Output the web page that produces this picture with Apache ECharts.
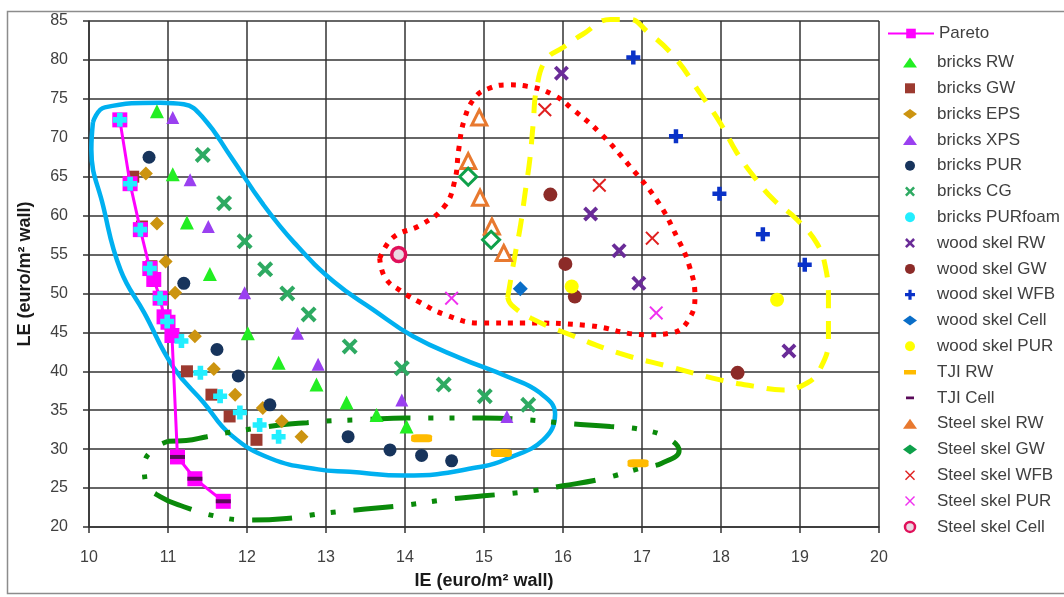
<!DOCTYPE html>
<html>
<head>
<meta charset="utf-8">
<script src="https://cdn.jsdelivr.net/npm/echarts@6/dist/echarts.min.js"></script>
<style>html,body{margin:0;padding:0;background:#fff}#c{width:1064px;height:597px}</style>
</head>
<body>
<div id="c"></div>
<script>
// ---- data (IE, LE) in euro/m2 wall ----
const xTicks = [10, 20, 1];     // min, max, interval
const yTicks = [20, 85, 5];
const xName = 'IE (euro/m\u00b2 wall)';
const yName = 'LE (euro/m\u00b2 wall)';

const pareto = [[10.39,72.3],[10.52,64.1],[10.65,58.2],[10.77,53.2],[10.82,51.8],[10.90,49.4],[10.95,47.0],[11.0,46.3],[11.05,44.6],[11.12,29.0],[11.34,26.2],[11.70,23.3]];
const bricksRW = [[10.86,73.4],[11.06,65.3],[11.24,59.1],[11.53,52.5],[12.01,44.9],[12.40,41.1],[12.88,38.3],[13.26,36.0],[13.64,34.4],[14.02,32.9]];
const bricksGW = [[10.56,65.0],[10.67,58.6],[10.79,53.5],[10.83,51.6],[10.95,47.0],[11.04,44.5],[11.24,40.0],[11.55,37.0],[11.78,34.2],[12.12,31.2]];
const bricksEPS = [[10.72,65.4],[10.86,59.0],[10.97,54.1],[11.09,50.1],[11.34,44.5],[11.58,40.3],[11.85,37.0],[12.2,35.3],[12.44,33.6],[12.69,31.6]];
const bricksXPS = [[11.06,72.6],[11.28,64.6],[11.51,58.6],[11.97,50.1],[12.64,44.9],[12.90,40.9],[13.96,36.3],[15.29,34.2]];
const bricksPUR = [[10.76,67.5],[11.20,51.3],[11.62,42.8],[11.89,39.4],[12.29,35.7],[13.28,31.6],[13.81,29.9],[14.21,29.2],[14.59,28.5]];
const bricksCG = [[11.44,67.8],[11.71,61.6],[11.97,56.7],[12.23,53.1],[12.51,50.0],[12.78,47.3],[13.30,43.2],[13.96,40.4],[14.49,38.3],[15.01,36.8],[15.56,35.7]];
const bricksPURfoam = [[10.39,72.3],[10.52,64.1],[10.65,58.2],[10.77,53.2],[10.90,49.4],[10.99,46.4],[11.17,43.9],[11.41,39.8],[11.66,36.8],[11.91,34.7],[12.16,33.1],[12.40,31.6]];
const woodRW = [[15.98,78.3],[16.35,60.2],[16.71,55.5],[16.96,51.3],[18.86,42.6]];
const woodGW = [[15.84,62.7],[16.03,53.8],[16.15,49.6],[18.21,39.8]];
const woodWFB = [[16.89,80.3],[17.43,70.2],[17.98,62.8],[18.53,57.6],[19.06,53.7]];
const woodCell = [[15.46,50.6]];
const woodPUR = [[16.11,50.9],[18.71,49.2]];
const tjiRW = [[14.21,31.4],[15.22,29.5],[16.95,28.2]];
const tjiCell = [[11.12,29.0],[11.34,26.2],[11.70,23.3]];
const steelRW = [[14.94,72.6],[14.80,67.0],[14.95,62.3],[15.10,58.6],[15.25,55.2]];
const steelGW = [[14.80,65.0],[15.09,56.9]];
const steelWFB = [[15.77,73.6],[16.46,63.9],[17.13,57.1]];
const steelPUR = [[14.59,49.4],[17.18,47.5]];
const steelCell = [[13.92,55.0]];

// ---- hand-drawn grouping outlines (data coordinates) ----
const loopBricks = [[10.05,72.0],[10.2,73.9],[10.9,74.5],[11.2,74.3],[11.45,72.5],[11.8,67.5],[12.2,61.5],[12.6,56.5],[13.1,51.5],[13.6,47.9],[14.1,44.5],[14.7,41.7],[15.3,39.3],[15.7,37.3],[15.9,34.5],[15.75,31.2],[15.3,28.8],[15.0,27.8],[14.0,26.6],[13.3,27.1],[12.9,27.4],[12.3,28.8],[11.8,31.8],[11.45,36.0],[11.07,40.5],[10.7,47.5],[10.4,53.0],[10.18,61.2],[10.03,68.5],[10.05,72.0]];
const loopSteel = [[13.68,54.5],[13.85,57.2],[14.2,58.8],[14.5,61.2],[14.63,64.5],[14.68,68.5],[14.75,72.3],[14.88,75.1],[15.05,76.3],[15.3,76.8],[15.55,76.6],[15.88,75.5],[16.13,73.6],[16.47,70.6],[16.85,66.3],[17.2,61.8],[17.44,57.3],[17.6,53.5],[17.67,49.6],[17.6,46.8],[17.4,45.0],[17.06,44.7],[16.3,45.9],[15.5,46.2],[14.95,46.2],[14.5,47.3],[14.2,48.8],[13.95,50.3],[13.75,52.0],[13.68,54.5]];
const loopWood = [[15.3,49.5],[15.39,54.8],[15.46,58.6],[15.52,62.9],[15.58,67.2],[15.62,71.5],[15.67,76.6],[15.79,80.1],[16.0,81.6],[16.25,83.3],[16.6,85.2],[16.85,85.2],[17.06,83.7],[17.40,80.5],[17.73,75.8],[17.99,71.9],[18.20,68.1],[18.41,65.1],[18.66,62.1],[18.96,59.5],[19.21,56.5],[19.32,53.5],[19.36,49.2],[19.36,44.1],[19.25,40.2],[19.09,38.5],[18.79,37.6],[18.41,38.1],[17.99,38.9],[17.35,40.6],[16.72,42.3],[16.09,44.7],[15.6,46.8],[15.35,48.5],[15.3,49.5]];
const loopTJI = [[11.0,31.0],[11.23,31.1],[11.49,31.6],[11.74,32.1],[12.2,32.8],[12.5,33.2],[12.76,33.4],[13.0,33.6],[13.5,33.8],[14.0,34.0],[14.5,34.0],[15.0,34.0],[15.5,33.8],[16.05,33.3],[16.6,32.9],[17.0,32.5],[17.33,31.4],[17.47,29.8],[17.25,28.2],[17.0,27.6],[16.5,26.2],[16.0,25.3],[15.5,24.5],[15.0,24.0],[14.5,23.5],[14.0,22.8],[13.5,22.3],[13.0,21.8],[12.5,21.1],[12.0,20.9],[11.6,21.4],[11.2,22.6],[10.9,23.9],[10.72,25.6],[10.7,27.8],[10.8,29.9],[11.0,31.0]];

const FONT = '"Liberation Sans", Arial, sans-serif';
const X_THICK = 'path://M0,1.8L1.8,0L5,3.2L8.2,0L10,1.8L6.8,5L10,8.2L8.2,10L5,6.8L1.8,10L0,8.2L3.2,5Z';
const X_THIN = 'path://M0,1L1,0L5,4L9,0L10,1L6,5L10,9L9,10L5,6L1,10L0,9L4,5Z';
const PLUS = 'path://M3.4,0H6.6V3.4H10V6.6H6.6V10H3.4V6.6H0V3.4H3.4Z';
const PLUS_FAT = 'path://M3,0H7V3H10V7H7V10H3V7H0V3H3Z';

function sc(name, data, symbol, size, color, extra) {
  const s = { name, type: 'scatter', data, symbol, symbolSize: size, z: 3,
    itemStyle: Object.assign({ color, opacity: 1 }, (extra && extra.itemStyle) || {}) };
  if (extra && extra.z) s.z = extra.z;
  return s;
}
function loop(data, color, type, width) {
  return { type: 'line', data, smooth: 0.45, symbol: 'none', silent: true, clip: false, z: 2,
    lineStyle: { color, width, type, cap: 'butt' }, legendHoverLink: false };
}

const series = [
  loop(loopBricks, '#00b0f0', 'solid', 4.5),
  loop(loopSteel, '#ff0000', [5, 7], 5),
  loop(loopWood, '#ffff00', [18, 13], 5),
  loop(loopTJI, '#0a8a0a', [40, 18, 5, 16, 5, 18], 5),
  { name: 'Pareto', type: 'line', data: pareto, symbol: 'rect', symbolSize: 15, z: 4,
    lineStyle: { color: '#ff00ff', width: 3 }, itemStyle: { color: '#ff00ff' } },
  sc('bricks RW', bricksRW, 'triangle', 14, '#22ee22'),
  sc('bricks GW', bricksGW, 'rect', 12, '#9c3a30'),
  sc('bricks EPS', bricksEPS, 'diamond', 14, '#cc9410'),
  sc('bricks XPS', bricksXPS, 'triangle', 13, '#9a40f0'),
  sc('bricks PUR', bricksPUR, 'circle', 13, '#17345c'),
  sc('bricks CG', bricksCG, X_THICK, 16, '#2eaa62'),
  sc('bricks PURfoam', bricksPURfoam, PLUS_FAT, 14, '#22eeff', { z: 5 }),
  sc('wood skel RW', woodRW, X_THICK, 15, '#6a2c98'),
  sc('wood skel GW', woodGW, 'circle', 14, '#8c2b28'),
  sc('wood skel WFB', woodWFB, PLUS, 14, '#0a32c8'),
  sc('wood skel Cell', woodCell, 'diamond', 15, '#0a6ec8'),
  sc('wood skel PUR', woodPUR, 'circle', 14, '#ffff00'),
  sc('TJI RW', tjiRW, 'roundRect', [21, 8], '#ffbb00'),
  sc('TJI Cell', tjiCell, 'rect', [15, 4], '#5a0a5a', { z: 5 }),
  sc('Steel skel RW', steelRW, 'triangle', 15, '#ffffff', { itemStyle: { borderColor: '#e8792f', borderWidth: 3 } }),
  sc('Steel skel GW', steelGW, 'diamond', 17, '#ffffff', { itemStyle: { borderColor: '#0ea04a', borderWidth: 3 } }),
  sc('Steel skel WFB', steelWFB, X_THIN, 14, '#e02020'),
  sc('Steel skel PUR', steelPUR, X_THIN, 14, '#f030f0'),
  sc('Steel skel Cell', steelCell, 'circle', 14, '#ead8e2', { itemStyle: { borderColor: '#e0105a', borderWidth: 3.5 } })
];

const legendNames = ['bricks RW','bricks GW','bricks EPS','bricks XPS','bricks PUR','bricks CG','bricks PURfoam','wood skel RW','wood skel GW','wood skel WFB','wood skel Cell','wood skel PUR','TJI RW','TJI Cell','Steel skel RW','Steel skel GW','Steel skel WFB','Steel skel PUR','Steel skel Cell'];
const legendOverrides = {
  'bricks GW': { icon: 'path://M0,0h10v10h-10z' },
  'bricks PURfoam': { icon: 'circle' },
  'TJI RW': { icon: 'path://M0,0h.01v.01h-.01z M13.99,9.99h.01v.01h-.01z M1,3 h12 v4.5 h-12z' },
  'TJI Cell': { icon: 'path://M0,0h.01v.01h-.01z M13.99,9.99h.01v.01h-.01z M3,3.6 h8 v2.8 h-8z' },
  'Steel skel RW': { itemStyle: { color: '#e8792f', borderWidth: 0 } },
  'Steel skel GW': { icon: 'diamond', itemStyle: { color: '#0ea04a', borderWidth: 0 } },
  'Steel skel Cell': { icon: 'circle', itemStyle: { borderWidth: 2.5 } }
};
const legendData = legendNames.map(n => Object.assign({ name: n }, legendOverrides[n] || {}));
const legendText = { fontSize: 17, color: '#404040', fontFamily: FONT, lineHeight: 16 };

const axisCommon = {
  type: 'value',
  axisLine: { show: true, lineStyle: { color: '#333', width: 1.5 } },
  axisTick: { show: true, inside: false, length: 6, lineStyle: { color: '#333', width: 1.5 } },
  splitLine: { show: true, lineStyle: { color: '#333', width: 1.5 } },
  nameLocation: 'middle',
  nameTextStyle: { fontSize: 18, fontWeight: 'bold', color: '#1a1a1a', fontFamily: FONT }
};

const chart = echarts.init(document.getElementById('c'), null, { renderer: 'canvas' });
chart.setOption({
  animation: false,
  backgroundColor: '#ffffff',
  textStyle: { fontFamily: FONT },
  grid: { left: 89, right: 185, top: 21, bottom: 70, containLabel: false },
  xAxis: Object.assign({}, axisCommon, {
    min: xTicks[0], max: xTicks[1], interval: xTicks[2],
    name: xName, nameGap: 45,
    axisLabel: { fontSize: 16, color: '#404040', margin: 23, fontFamily: FONT }
  }),
  yAxis: Object.assign({}, axisCommon, {
    min: yTicks[0], max: yTicks[1], interval: yTicks[2],
    name: yName, nameGap: 55, nameRotate: 90,
    axisLabel: { fontSize: 16, color: '#404040', margin: 21, fontFamily: FONT }
  }),
  legend: [
    { data: ['Pareto'], orient: 'vertical', left: 887, top: 25, padding: 0, itemWidth: 46, itemHeight: 12,
      selectedMode: false, textStyle: legendText },
    { data: legendData, orient: 'vertical', left: 903, top: 54, padding: 0, itemWidth: 14, itemHeight: 10,
      itemGap: 8.8, selectedMode: false, textStyle: Object.assign({}, legendText, { padding: [0, 0, 0, 15] }) }
  ],
  graphic: [
    { type: 'rect', left: 5, top: 9, shape: { x: 0, y: 0, width: 1080, height: 582 }, silent: true,
      style: { fill: 'none', stroke: '#8c8c8c', lineWidth: 1.5 }, z: -1 }
  ],
  series
});
</script>
</body>
</html>
